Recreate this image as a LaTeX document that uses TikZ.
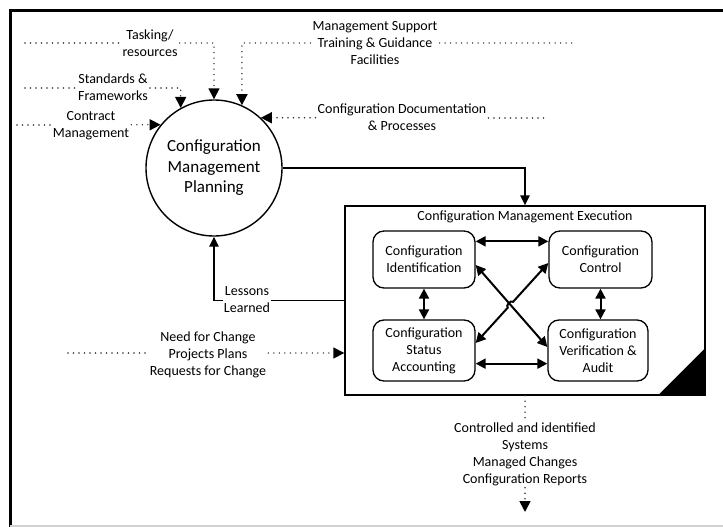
\documentclass[tikz,border=0pt]{standalone}
\usepackage{fontspec}
\setmainfont{Carlito}
\usetikzlibrary{arrows.meta,calc,intersections}

\begin{document}
\begin{tikzpicture}[x=1pt,y=-1pt,
  txt/.style={font=\fontsize{14}{17}\selectfont, align=center, inner sep=2pt},
  dotline/.style={line width=1.6pt, dash pattern=on 0pt off 5.5pt, line cap=round, black!80},
  inarrow/.style={-{Triangle[length=11pt,width=11pt,color=black]}},
  solidarr/.style={line width=1.4pt, -{Triangle[length=10pt,width=9.5pt]}},
  twoway/.style={line width=2pt, {Triangle[length=10pt,width=10pt]}-{Triangle[length=10pt,width=10pt]}},
  proc/.style={draw, line width=1.3pt, rounded corners=11pt, txt, inner sep=0pt}]

\useasboundingbox (0,0) rectangle (723,527);

% frame
\draw[line width=3pt] (10,527) |- (723,11);
\draw[gray!35, line width=1.2pt] (10,526) -- (723,526);

% planning process
\node[draw, circle, line width=1.4pt, minimum size=136pt, inner sep=0pt,
      font=\fontsize{17}{20.5}\selectfont, align=center]
      (cmp) at (214,168) {Configuration\\Management\\Planning};

% execution block
\node[draw, line width=1.4pt, minimum width=360pt, minimum height=189pt, inner sep=0pt]
      (ex) at (525,300.5) {};
\node[txt] (ext) at (525,217) {Configuration Management Execution};
\fill (ex.south east) -- ++(0,-48) -- ++(-48,48) -- cycle;

\node[proc, minimum width=102pt, minimum height=57pt] (cid) at (424,259.5) {Configuration\\Identification};
\node[proc, minimum width=103pt, minimum height=57pt] (cctl) at (600.5,259.5) {Configuration\\Control};
\node[proc, minimum width=102pt, minimum height=61pt] (csa) at (424,350.5) {Configuration\\Status\\Accounting};
\node[proc, minimum width=100pt, minimum height=61pt] (cva) at (598,350.5) {Configuration\\Verification \&\\Audit};

% links between the four activities
\draw[twoway] ($(cid.north east)+(0,11)$) -- ($(cctl.north west)+(0,11)$);
\draw[twoway] ($(csa.south east)+(0,-18)$) -- ($(cva.south west)+(0,-18)$);
\draw[twoway] (cid.south) -- (csa.north);
\draw[twoway] (cctl.south) -- (cctl.south |- cva.north);

\coordinate (a1) at ($(cid.east)+(0,5.5)$);
\coordinate (a2) at ($(cva.west)+(0,-3.5)$);
\coordinate (b1) at ($(cctl.west)+(0,3.5)$);
\coordinate (b2) at ($(csa.east)+(0,-7.5)$);
\path[name path=da] (a1) -- (a2);
\path[name path=db] (b1) -- (b2);
\path[name intersections={of=da and db, by=xc}];
\draw[twoway] (a1) -- (a2);
\draw[twoway] (b1) -- ($(xc)!4pt!(b1)$) to[bend right=90] ($(xc)!4pt!(b2)$) -- (b2);

% planning <-> execution
\draw[solidarr] (cmp.east) -| (ex.north);
\draw[solidarr] (ex.west) -| (cmp.south);
\node[txt, fill=white, inner sep=1pt] (ll) at (247,299.5) {Lessons\\Learned};

% inputs to planning
\node[txt] (task) at (150,43.5) {Tasking/\\resources};
\coordinate (taskin) at (25,43);
\draw[dotline] (taskin) -- (taskin -| task.west);
\draw[dotline, inarrow] (task.east |- taskin) -| (cmp.north);

\node[txt] (ms) at (375,43) {Management Support\\Training \& Guidance\\Facilities};
\coordinate (msout) at (572,43);
\draw[dotline] (ms.east) -- (msout);
\draw[dotline, inarrow] (ms.west) -- (ms.west -| cmp.66) -- (cmp.66);

\node[txt] (std) at (113,87.5) {Standards \&\\Frameworks};
\coordinate (stdin) at (25,88);
\draw[dotline] (stdin) -- (stdin -| std.west);
\draw[dotline, inarrow] (std.east |- stdin) -- (stdin -| cmp.119) -- (cmp.119);

\node[txt] (cm) at (91,125.5) {Contract\\Management};
\coordinate (cmin) at (17,125);
\draw[dotline] (cmin) -- (cmin -| cm.west);
\draw[dotline, inarrow] (cm.east |- cmp.141) -- (cmp.141);

\node[txt] (cdp) at (402,117.5) {Configuration Documentation\\\& Processes};
\coordinate (cdpout) at (547,118);
\draw[dotline] (cdp.east |- cdpout) -- (cdpout);
\draw[dotline, inarrow] (cdp.west |- cmp.47) -- (cmp.47);

% input to execution
\node[txt] (nfc) at (208,355) {Need for Change\\Projects Plans\\Requests for Change};
\coordinate (nfcin) at (68,353);
\draw[dotline] (nfcin) -- (nfcin -| nfc.west);
\draw[dotline, inarrow] (nfc.east |- nfcin) -- (nfcin -| ex.west);

% outputs
\node[txt] (out) at (525,454) {Controlled and identified\\Systems\\Managed Changes\\Configuration Reports};
\coordinate (outend) at (525,512);
\draw[dotline] (ex.south) -- (out.north);
\draw[dotline, inarrow] (out.south) -- (outend);

\end{tikzpicture}
\end{document}
